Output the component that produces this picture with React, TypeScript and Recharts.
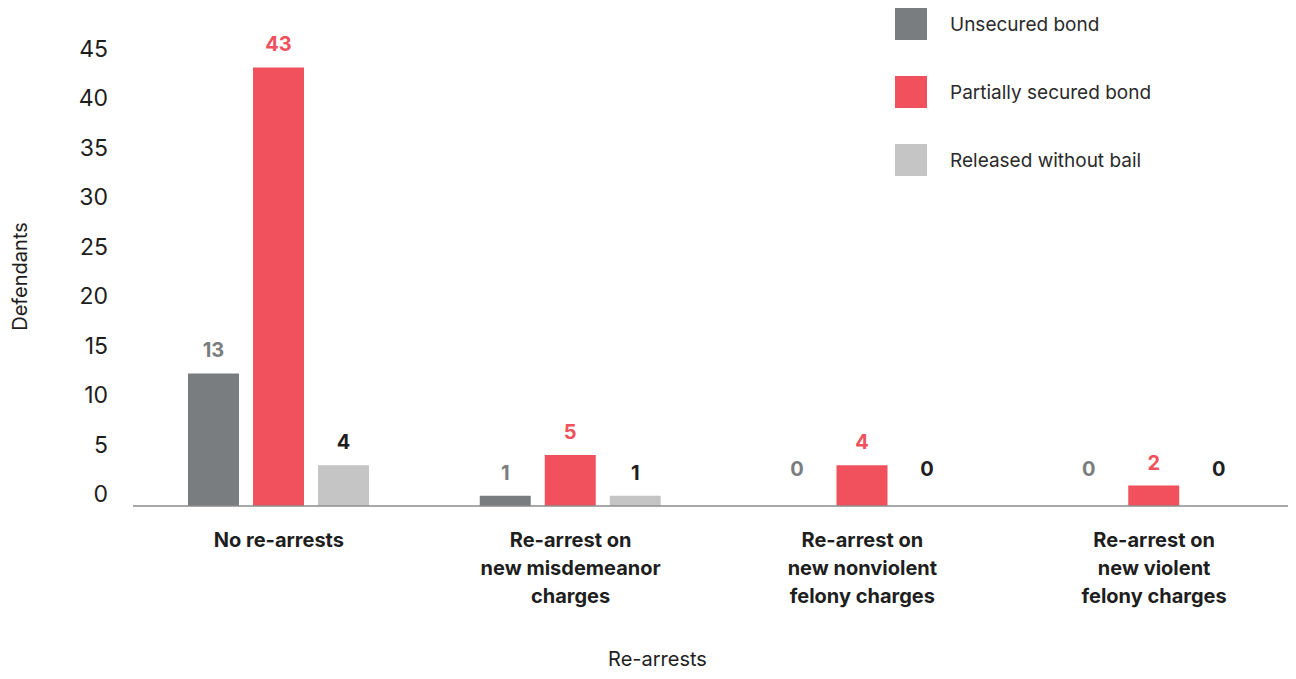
import { BarChart, Bar, XAxis, YAxis, LabelList } from "recharts";

const categories = [
  "No re-arrests",
  "Re-arrest on\nnew misdemeanor\ncharges",
  "Re-arrest on\nnew nonviolent\nfelony charges",
  "Re-arrest on\nnew violent\nfelony charges",
];
const unsecured = [13, 1, 0, 0];
const partial = [43, 5, 4, 2];
const released = [4, 1, 0, 0];
const yTicks = [0, 5, 10, 15, 20, 25, 30, 35, 40, 45];

const series = [
  { key: "unsecured", name: "Unsecured bond", color: "#7a7d80", labelColor: "#7a7d80" },
  { key: "partial", name: "Partially secured bond", color: "#f1505d", labelColor: "#f1505d" },
  { key: "released", name: "Released without bail", color: "#c4c5c4", labelColor: "#1e1e1e" },
];

const data = categories.map((c, i) => ({
  category: c,
  unsecured: unsecured[i],
  partial: partial[i],
  released: released[i],
}));

const FONT = "Inter, 'Noto Sans', sans-serif";

function XTick({ x, y, payload }: any) {
  const lines = String(payload.value).split("\n");
  return (
    <text x={x} y={y} textAnchor="middle" fontFamily={FONT} fontSize={20} fontWeight={700} fill="#1e1e1e">
      {lines.map((l, i) => (
        <tspan key={i} x={x} dy={i === 0 ? 26 : 28} dominantBaseline="central">{l}</tspan>
      ))}
    </text>
  );
}

function YTick({ x, y, payload }: any) {
  // labels in the source sit a little off the bar scale
  const shift = -12 + payload.value * 0.31;
  return (
    <text x={x} y={y + shift} textAnchor="end" dominantBaseline="central" fontFamily={FONT} fontSize={23} fill="#1e1e1e">
      {payload.value}
    </text>
  );
}

const makeValueLabel = (color: string) => (props: any) => {
  const { x, y, width, value } = props;
  const lift = value === 0 ? 37 : 23;
  return (
    <text x={x + width / 2} y={y - lift} textAnchor="middle" dominantBaseline="central"
      fontFamily={FONT} fontSize={20} fontWeight={700} fill={color}>
      {value}
    </text>
  );
};

function LegendBox() {
  return (
    <div style={{ position: "absolute", left: 895, top: -10, fontFamily: FONT }}>
      {series.map((s) => (
        <div key={s.key} style={{ display: "flex", alignItems: "center", height: 68 }}>
          <div style={{ width: 32, height: 32, background: s.color }} />
          <span style={{ marginLeft: 23, fontSize: 19, color: "#2a2a2a" }}>{s.name}</span>
        </div>
      ))}
    </div>
  );
}

export default function App() {
  return (
    <div style={{ margin: -8, width: 1296, height: 679, position: "relative", overflow: "hidden" }}>
      <BarChart
        width={1310}
        height={679}
        data={data}
        margin={{ top: 47, right: 10, left: 0, bottom: 3 }}
        barGap={14}
      >
        <XAxis
          dataKey="category"
          interval={0}
          height={170}
          tickLine={false}
          axisLine={{ stroke: "#8c8c8c", strokeWidth: 1.5 }}
          tick={<XTick />}
          label={{ value: "Re-arrests", position: "insideBottom", offset: 10, dx: -59, style: { fontFamily: FONT, fontSize: 20, fill: "#1e1e1e" } }}
        />
        <YAxis
          width={133}
          domain={[0, 45]}
          ticks={yTicks}
          axisLine={false}
          tickLine={false}
          tickSize={0}
          tickMargin={25}
          tick={<YTick />}
          label={{ value: "Defendants", angle: -90, position: "insideLeft", offset: 20, style: { textAnchor: "middle", fontFamily: FONT, fontSize: 20, fill: "#1e1e1e" } }}
        />
        {series.map((s) => (
          <Bar key={s.key} dataKey={s.key} name={s.name} fill={s.color} barSize={51} minPointSize={0.01} isAnimationActive={false}>
            <LabelList dataKey={s.key} content={makeValueLabel(s.labelColor)} />
          </Bar>
        ))}
      </BarChart>
      <LegendBox />
    </div>
  );
}
